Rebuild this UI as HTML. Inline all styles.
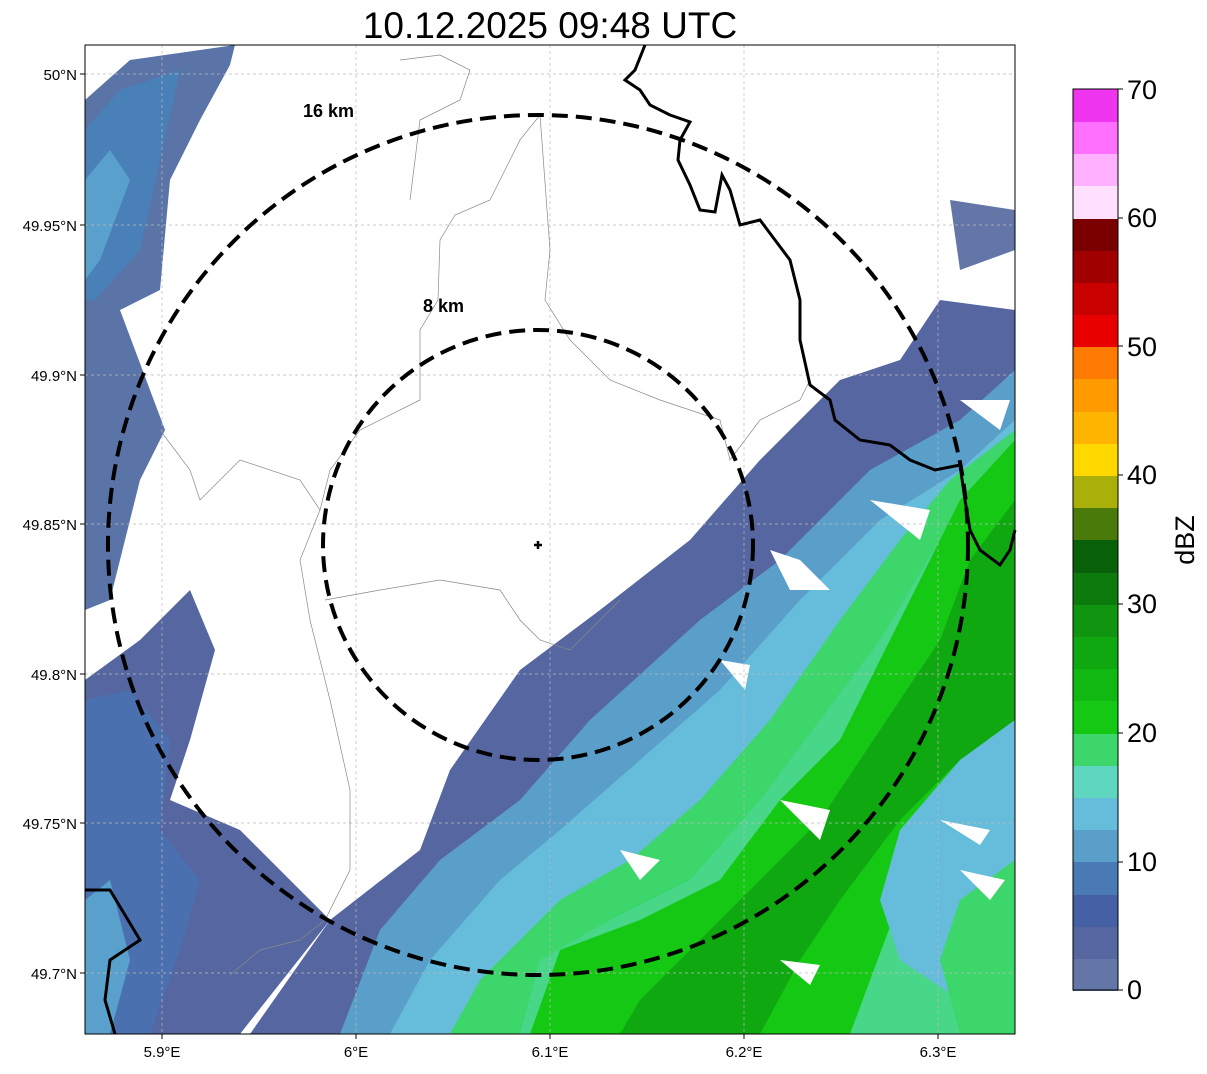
<!DOCTYPE html>
<html><head><meta charset="utf-8"><style>
body{margin:0;background:#fff;width:1207px;height:1069px;overflow:hidden;font-family:"Liberation Sans",sans-serif}
</style></head><body>
<svg width="1207" height="1069" xmlns="http://www.w3.org/2000/svg" font-family="Liberation Sans, sans-serif">
<rect width="1207" height="1069" fill="#fff"/>
<text x="550" y="38" font-size="37" text-anchor="middle">10.12.2025 09:48 UTC</text>
<defs><clipPath id="c"><rect x="85" y="45" width="930" height="989"/></clipPath></defs>
<g clip-path="url(#c)">
<polygon points="85,100 130,60 235,45 230,65 200,120 170,180 160,290 120,310 165,430 140,480 110,600 85,610" fill="#5a74a8"/>
<polygon points="85,130 120,90 180,70 160,160 140,250 95,300 85,300" fill="#4a80b8"/>
<polygon points="85,180 110,150 130,180 100,260 85,280" fill="#5aa0cc"/>
<polygon points="85,680 140,640 190,590 215,650 190,740 170,800 240,830 290,880 330,920 240,1034 85,1034" fill="#5566a0"/>
<polygon points="85,700 130,690 170,740 160,830 200,880 180,950 150,1034 85,1034" fill="#4a70b0"/>
<polygon points="85,900 110,880 130,960 110,1034 85,1034" fill="#5aa0cc"/>
<polygon points="1015,310 940,300 900,360 840,380 760,460 690,540 600,610 520,670 450,770 420,850 330,920 250,1034 1015,1034" fill="#5566a0"/>
<polygon points="1015,370 960,420 870,470 780,560 700,620 590,720 520,800 440,860 380,930 340,1034 1015,1034" fill="#5a9fca"/>
<polygon points="1015,420 960,470 880,520 800,600 720,690 640,760 560,830 500,880 430,960 390,1034 1015,1034" fill="#65bddb"/>
<polygon points="1015,430 950,480 900,540 840,620 770,720 700,800 630,860 560,900 480,980 450,1034 1015,1034" fill="#3cd66a"/>
<polygon points="1015,470 940,540 880,640 820,720 760,800 690,880 610,920 540,960 520,1034 1015,1034" fill="#5fd6c0" opacity="0.35"/>
<polygon points="1015,440 960,500 920,580 880,660 840,740 780,800 720,880 640,920 560,950 530,1034 850,1034 900,900 950,800 1015,700" fill="#14c814"/>
<polygon points="1015,500 970,560 940,640 900,700 860,760 820,820 760,880 700,940 640,1000 620,1034 760,1034 800,960 840,900 900,820 960,760 1015,720" fill="#10a810"/>
<polygon points="1015,720 960,760 900,830 880,900 900,960 960,1000 1015,1034" fill="#65bddb"/>
<polygon points="1015,860 960,900 940,960 960,1034 1015,1034" fill="#3cd66a"/>
<polygon points="770,550 800,560 830,590 790,590" fill="#fff"/>
<polygon points="870,500 930,510 920,540" fill="#fff"/>
<polygon points="780,800 830,810 820,840" fill="#fff"/>
<polygon points="620,850 660,860 640,880" fill="#fff"/>
<polygon points="940,820 990,830 980,845" fill="#fff"/>
<polygon points="960,870 1005,880 990,900" fill="#fff"/>
<polygon points="780,960 820,965 810,985" fill="#fff"/>
<polygon points="720,660 750,665 745,690" fill="#fff"/>
<polygon points="960,400 1010,400 1000,430" fill="#fff"/>
<polygon points="950,200 1015,210 1015,250 960,270" fill="#6475a8"/>
</g>
<g stroke="#bbb" stroke-width="0.7" stroke-dasharray="3,3">
<line x1="162" y1="45" x2="162" y2="1034"/><line x1="356" y1="45" x2="356" y2="1034"/><line x1="550" y1="45" x2="550" y2="1034"/><line x1="744" y1="45" x2="744" y2="1034"/><line x1="938" y1="45" x2="938" y2="1034"/>
<line x1="85" y1="74" x2="1015" y2="74"/><line x1="85" y1="225" x2="1015" y2="225"/><line x1="85" y1="375" x2="1015" y2="375"/><line x1="85" y1="524" x2="1015" y2="524"/><line x1="85" y1="674" x2="1015" y2="674"/><line x1="85" y1="823" x2="1015" y2="823"/><line x1="85" y1="973" x2="1015" y2="973"/>
</g>
<g fill="none" stroke="#888" stroke-width="0.7">
<path d="M540,115 L520,140 490,200 455,215 440,240 438,300 420,330 420,400 360,430 330,470 320,510 300,560 310,620 330,700 350,790 350,870 325,920 300,940 260,950 230,975"/>
<path d="M325,600 L380,590 440,580 500,590 520,620 540,640 570,650 620,600"/>
<path d="M160,430 L190,470 200,500 240,460 300,480 320,510"/>
<path d="M540,115 L550,250 545,300 570,340 610,380 660,400 720,420 730,460 760,420 800,400 810,380"/>
<path d="M400,60 L440,55 470,70 460,100 420,120 410,200"/>
</g>
<g fill="none" stroke="#000" stroke-width="3">
<path d="M645,45 L635,70 625,80 640,90 650,105 670,115 690,122 680,140 678,160 690,185 700,210 715,212 722,175 730,190 740,225 760,220 775,240 790,260 800,300 800,340 810,385 830,400 835,420 860,440 890,445 910,460 935,470 960,465 965,500 970,530 980,550 1000,565 1010,550 1015,530"/>
<path d="M85,890 L110,890 140,940 110,960 105,1000 115,1034"/>
</g>
<g fill="none" stroke="#000" stroke-width="4" stroke-dasharray="16,8">
<circle cx="538" cy="545" r="215"/>
<circle cx="538" cy="545" r="430"/>
</g>
<path d="M534,545 h8 M538,541 v8" stroke="#000" stroke-width="2.5"/>
<text x="303" y="117" font-size="18" font-weight="bold">16 km</text>
<text x="423" y="312" font-size="18" font-weight="bold">8 km</text>
<rect x="85" y="45" width="930" height="989" fill="none" stroke="#000" stroke-width="1"/>
<g stroke="#000"><line x1="80" y1="74" x2="85" y2="74"/><line x1="80" y1="225" x2="85" y2="225"/><line x1="80" y1="375" x2="85" y2="375"/><line x1="80" y1="524" x2="85" y2="524"/><line x1="80" y1="674" x2="85" y2="674"/><line x1="80" y1="823" x2="85" y2="823"/><line x1="80" y1="973" x2="85" y2="973"/>
<line x1="162" y1="1034" x2="162" y2="1039"/><line x1="356" y1="1034" x2="356" y2="1039"/><line x1="550" y1="1034" x2="550" y2="1039"/><line x1="744" y1="1034" x2="744" y2="1039"/><line x1="938" y1="1034" x2="938" y2="1039"/></g>
<g font-size="15" text-anchor="end">
<text x="77" y="80">50°N</text><text x="77" y="231">49.95°N</text><text x="77" y="381">49.9°N</text><text x="77" y="530">49.85°N</text><text x="77" y="680">49.8°N</text><text x="77" y="829">49.75°N</text><text x="77" y="979">49.7°N</text>
</g>
<g font-size="15" text-anchor="middle">
<text x="162" y="1057">5.9°E</text><text x="356" y="1057">6°E</text><text x="550" y="1057">6.1°E</text><text x="744" y="1057">6.2°E</text><text x="938" y="1057">6.3°E</text>
</g>
<g>
<rect x="1073" y="958" width="45" height="33" fill="#6475a8"/>
<rect x="1073" y="926" width="45" height="33" fill="#5566a0"/>
<rect x="1073" y="894" width="45" height="33" fill="#4560a5"/>
<rect x="1073" y="862" width="45" height="33" fill="#4a7ab5"/>
<rect x="1073" y="829" width="45" height="33" fill="#5a9fca"/>
<rect x="1073" y="797" width="45" height="33" fill="#65bddb"/>
<rect x="1073" y="765" width="45" height="33" fill="#5fd6c0"/>
<rect x="1073" y="733" width="45" height="33" fill="#3cd66a"/>
<rect x="1073" y="701" width="45" height="33" fill="#14c814"/>
<rect x="1073" y="668" width="45" height="33" fill="#12b812"/>
<rect x="1073" y="636" width="45" height="33" fill="#10a810"/>
<rect x="1073" y="604" width="45" height="33" fill="#0f9510"/>
<rect x="1073" y="572" width="45" height="33" fill="#0c7a0c"/>
<rect x="1073" y="540" width="45" height="33" fill="#086008"/>
<rect x="1073" y="507" width="45" height="33" fill="#4a7a0a"/>
<rect x="1073" y="475" width="45" height="33" fill="#aab00a"/>
<rect x="1073" y="443" width="45" height="33" fill="#ffd800"/>
<rect x="1073" y="411" width="45" height="33" fill="#ffb400"/>
<rect x="1073" y="379" width="45" height="33" fill="#ff9a00"/>
<rect x="1073" y="346" width="45" height="33" fill="#ff7a00"/>
<rect x="1073" y="314" width="45" height="33" fill="#e80000"/>
<rect x="1073" y="282" width="45" height="33" fill="#c80000"/>
<rect x="1073" y="250" width="45" height="33" fill="#a00000"/>
<rect x="1073" y="218" width="45" height="33" fill="#7a0000"/>
<rect x="1073" y="186" width="45" height="33" fill="#ffe0ff"/>
<rect x="1073" y="153" width="45" height="33" fill="#ffb0ff"/>
<rect x="1073" y="121" width="45" height="33" fill="#ff70ff"/>
<rect x="1073" y="89" width="45" height="33" fill="#f035f0"/>
<rect x="1073" y="89" width="45" height="901" fill="none" stroke="#000" stroke-width="1"/>
</g>
<g font-size="27">
<text x="1127" y="999">0</text><text x="1127" y="871">10</text><text x="1127" y="742">20</text><text x="1127" y="613">30</text><text x="1127" y="484">40</text><text x="1127" y="356">50</text><text x="1127" y="227">60</text><text x="1127" y="99">70</text>
</g>
<g stroke="#000"><line x1="1118" y1="990" x2="1123" y2="990"/><line x1="1118" y1="862" x2="1123" y2="862"/><line x1="1118" y1="733" x2="1123" y2="733"/><line x1="1118" y1="604" x2="1123" y2="604"/><line x1="1118" y1="475" x2="1123" y2="475"/><line x1="1118" y1="346" x2="1123" y2="346"/><line x1="1118" y1="218" x2="1123" y2="218"/><line x1="1118" y1="89" x2="1123" y2="89"/></g>
<text x="0" y="0" font-size="27" transform="translate(1194,540) rotate(-90)" text-anchor="middle">dBZ</text>
</svg>
</body></html>
